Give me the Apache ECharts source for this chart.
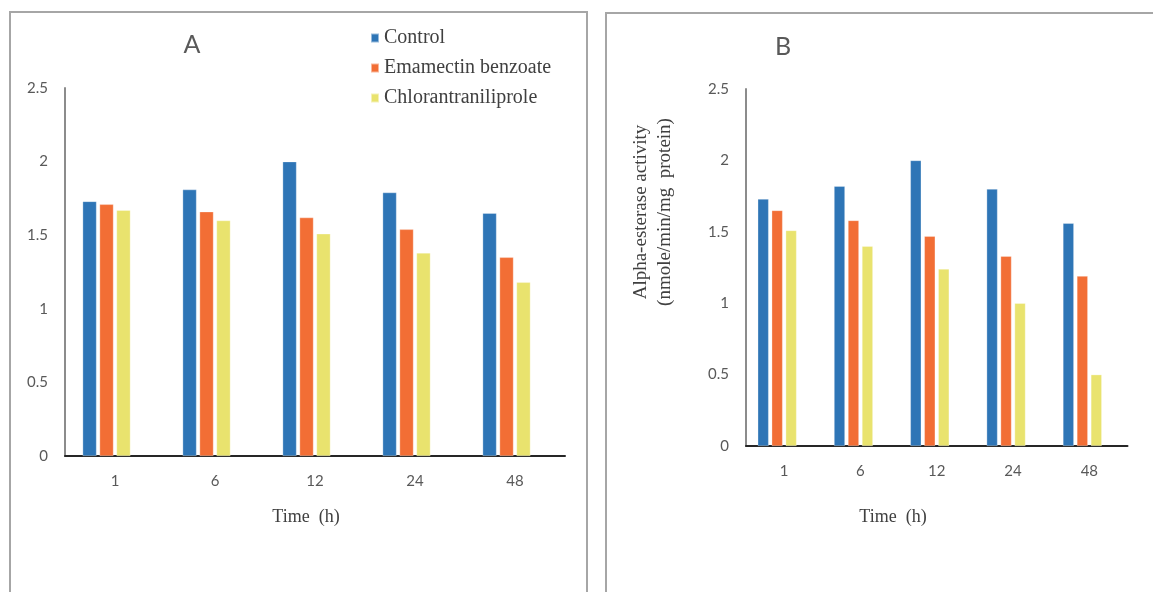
<!DOCTYPE html>
<html>
<head>
<meta charset="utf-8">
<script src="https://cdn.jsdelivr.net/npm/echarts@6/dist/echarts.min.js"></script>
<style>html,body{margin:0;padding:0;background:#fff;}#c{width:1153px;height:592px;}</style>
</head>
<body>
<div id="c"></div>
<script>
const categories = ['1', '6', '12', '24', '48'];
const seriesNames = ['Control', 'Emamectin benzoate', 'Chlorantraniliprole'];
const yTicks = [0, 0.5, 1, 1.5, 2, 2.5];
// Panel A
const controlA = [1.73, 1.81, 2.00, 1.79, 1.65];
const emamectinA = [1.71, 1.66, 1.62, 1.54, 1.35];
const chlorA = [1.67, 1.60, 1.51, 1.38, 1.18];
// Panel B
const controlB = [1.73, 1.82, 2.00, 1.80, 1.56];
const emamectinB = [1.65, 1.58, 1.47, 1.33, 1.19];
const chlorB = [1.51, 1.40, 1.24, 1.00, 0.50];

const colors = ['#2E75B6', '#F26E35', '#E9E36E'];
const tickFont = {color: '#595959', fontFamily: 'Lato', fontSize: 15};

function xAx(grid) {
  return {type: 'category', gridIndex: grid, data: categories,
    axisLine: {lineStyle: {color: '#262626', width: 2}},
    axisTick: {show: false},
    axisLabel: Object.assign({margin: 18}, tickFont)};
}
function yAx(grid) {
  return {type: 'value', gridIndex: grid, min: yTicks[0], max: yTicks[yTicks.length - 1], interval: 0.5,
    axisLine: {show: true, lineStyle: {color: '#8c8c8c', width: 2}},
    axisTick: {show: false}, splitLine: {show: false},
    axisLabel: Object.assign({margin: 17, formatter: v => String(v)}, tickFont)};
}
function bars(grid, data, i, bw, gap) {
  return {type: 'bar', name: seriesNames[i], xAxisIndex: grid, yAxisIndex: grid, data: data,
    barWidth: bw, barGap: gap,
    itemStyle: {color: colors[i], borderColor: 'rgba(255,255,255,0.5)', borderWidth: 0.6}};
}
function spacer(grid, bw, gap) {
  return {type: 'bar', name: 'spacer', xAxisIndex: grid, yAxisIndex: grid, data: [], barWidth: bw, barGap: gap};
}

const chart = echarts.init(document.getElementById('c'));
chart.setOption({
  animation: false,
  backgroundColor: '#fff',
  grid: [
    {left: 65, right: 588, top: 88, bottom: 136},
    {left: 746, right: 25.5, top: 89, bottom: 146}
  ],
  legend: {
    data: seriesNames, orient: 'vertical', left: 365, top: 23,
    itemWidth: 8, itemHeight: 9, itemGap: 10, icon: 'rect',
    textStyle: {fontFamily: 'Liberation Serif', fontSize: 20, color: '#404040', lineHeight: 20}
  },
  xAxis: [xAx(0), xAx(1)],
  yAxis: [yAx(0), yAx(1)],
  series: [
    bars(0, controlA, 0, 14, '21%'), bars(0, emamectinA, 1, 14, '21%'), bars(0, chlorA, 2, 14, '21%'), spacer(0, 14, '21%'),
    bars(1, controlB, 0, 11, '27%'), bars(1, emamectinB, 1, 11, '27%'), bars(1, chlorB, 2, 11, '27%'), spacer(1, 11, '27%')
  ],
  graphic: [
    {type: 'rect', shape: {x: 10, y: 12, width: 577, height: 620}, style: {fill: 'none', stroke: '#a6a6a6', lineWidth: 2}, silent: true},
    {type: 'rect', shape: {x: 606, y: 13, width: 620, height: 620}, style: {fill: 'none', stroke: '#a6a6a6', lineWidth: 2}, silent: true},
    {type: 'text', x: 192, y: 45, style: {text: 'A', fontFamily: 'Lato', fontSize: 25, fill: '#595959', textAlign: 'center', textVerticalAlign: 'middle'}},
    {type: 'text', x: 783, y: 47, style: {text: 'B', fontFamily: 'Lato', fontSize: 25, fill: '#595959', textAlign: 'center', textVerticalAlign: 'middle'}},
    {type: 'text', x: 306, y: 517, style: {text: 'Time  (h)', fontFamily: 'Liberation Serif', fontSize: 18, fill: '#404040', textAlign: 'center', textVerticalAlign: 'middle'}},
    {type: 'text', x: 893, y: 517, style: {text: 'Time  (h)', fontFamily: 'Liberation Serif', fontSize: 18, fill: '#404040', textAlign: 'center', textVerticalAlign: 'middle'}},
    {type: 'text', x: 653, y: 212, rotation: Math.PI / 2,
      style: {text: 'Alpha-esterase activity\n(nmole/min/mg  protein)', fontFamily: 'Liberation Serif', fontSize: 19, lineHeight: 24, fill: '#404040', textAlign: 'center', textVerticalAlign: 'middle'}}
  ]
});
</script>
</body>
</html>
